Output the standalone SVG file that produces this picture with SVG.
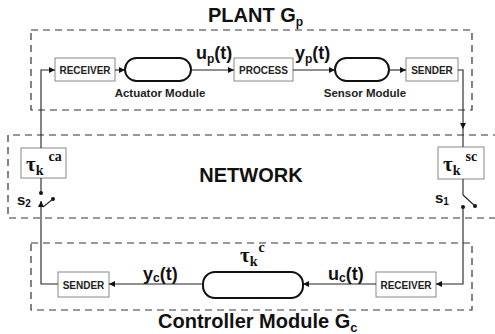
<svg xmlns="http://www.w3.org/2000/svg" width="495" height="334" viewBox="0 0 495 334">
<style>
.dash{fill:none;stroke:#333;stroke-width:1.2;stroke-dasharray:7 5}
.box{fill:#fff;stroke:#888;stroke-width:1}
.mod{fill:#fff;stroke:#111;stroke-width:2}
.ln{fill:none;stroke:#222;stroke-width:1.1}
.bl{font-family:"Liberation Sans",Arial,sans-serif;font-weight:bold;font-size:10px;fill:#222;text-anchor:middle}
.cap{font-family:"Liberation Sans",Arial,sans-serif;font-weight:bold;font-size:11.5px;fill:#222;text-anchor:middle}
.sig{font-family:"Liberation Sans",Arial,sans-serif;font-weight:bold;font-size:18px;fill:#111}
.ttl{font-family:"Liberation Sans",Arial,sans-serif;font-weight:bold;font-size:20px;fill:#111}
.sw{font-family:"Liberation Sans",Arial,sans-serif;font-weight:bold;font-size:15px;fill:#111}
.tau{font-family:"Liberation Serif","Times New Roman",serif;font-weight:bold;font-size:21px;fill:#111}
.dot{fill:#111}
</style>
<defs>
<marker id="ah" viewBox="0 0 10 10" refX="10" refY="5" markerWidth="6" markerHeight="6" markerUnits="userSpaceOnUse" orient="auto">
<path d="M0,0 L10,5 L0,10 z" fill="#111"/>
</marker>
</defs>

<g id="plant">
<rect class="dash" x="31" y="30" width="441" height="80"/>
<text class="ttl" x="208" y="22" font-size="18">PLANT G<tspan font-size="12" dy="4">p</tspan></text>
</g>
<g id="network">
<path class="dash" d="M500,135 H8 V218 H500"/>
<text class="ttl" x="251" y="182" text-anchor="middle">NETWORK</text>
</g>
<g id="controller">
<rect class="dash" x="31" y="243" width="441" height="67"/>
<text class="ttl" x="158" y="328">Controller Module G<tspan font-size="13" dy="4">c</tspan></text>
</g>

<g id="plant-receiver"><rect class="box" x="55" y="58" width="60" height="23"/><text class="bl" x="85" y="73.5">RECEIVER</text></g>
<g id="actuator"><rect class="mod" x="125" y="58" width="66" height="23" rx="11.5"/><text class="cap" x="160" y="97">Actuator Module</text></g>
<g id="process"><rect class="box" x="234" y="58" width="59" height="23"/><text class="bl" x="263.5" y="73.5">PROCESS</text></g>
<g id="sensor"><rect class="mod" x="335" y="58" width="54" height="23" rx="11.5"/><text class="cap" x="365" y="97">Sensor Module</text></g>
<g id="plant-sender"><rect class="box" x="406" y="58" width="52" height="23"/><text class="bl" x="432" y="73.5">SENDER</text></g>

<g id="tau-ca"><rect class="box" x="21" y="148" width="45" height="30"/><text class="tau" x="26" y="171">τ<tspan font-size="14" dy="4">k</tspan><tspan font-size="14" dx="5" dy="-14">ca</tspan></text></g>
<g id="tau-sc"><rect class="box" x="438" y="147" width="46" height="32"/><text class="tau" x="443" y="171">τ<tspan font-size="14" dy="4">k</tspan><tspan font-size="14" dx="5" dy="-14">sc</tspan></text></g>

<g id="switch-s2">
<circle class="dot" cx="41" cy="193" r="2"/>
<circle class="dot" cx="53" cy="199" r="2"/>
<path class="ln" d="M53,199 L43,207"/>
<text class="sw" x="17" y="205">s<tspan font-size="10" dy="2">2</tspan></text>
</g>
<g id="switch-s1">
<circle class="dot" cx="463" cy="207" r="2"/>
<circle class="dot" cx="475" cy="206" r="2"/>
<path class="ln" d="M463,195 L475,206"/>
<text class="sw" x="435" y="203">s<tspan font-size="10" dy="2">1</tspan></text>
</g>

<g id="ctrl-sender"><rect class="box" x="58" y="272" width="51" height="25"/><text class="bl" x="83.5" y="288.5">SENDER</text></g>
<g id="ctrl-module"><rect class="mod" x="203" y="272" width="100" height="26" rx="12"/><text class="tau" x="240" y="262">τ<tspan font-size="14" dy="4">k</tspan><tspan font-size="14" dx="1" dy="-14">c</tspan></text></g>
<g id="ctrl-receiver"><rect class="box" x="376" y="272" width="60" height="25"/><text class="bl" x="406" y="288.5">RECEIVER</text></g>

<g id="connectors">
<path class="ln" d="M115,70 H125" marker-end="url(#ah)"/>
<path class="ln" d="M191,70 H234" marker-end="url(#ah)"/>
<path class="ln" d="M293,70 H335" marker-end="url(#ah)"/>
<path class="ln" d="M389,70 H406" marker-end="url(#ah)"/>
<path class="ln" d="M458,70 H463 V129" marker-end="url(#ah)"/>
<path class="ln" d="M463,129 V147"/>
<path class="ln" d="M463,179 V195"/>
<path class="ln" d="M463,207 V284 H436" marker-end="url(#ah)"/>
<path class="ln" d="M376,284 H303" marker-end="url(#ah)"/>
<path class="ln" d="M203,284 H109" marker-end="url(#ah)"/>
<path class="ln" d="M58,284 H41 V201" marker-end="url(#ah)"/>
<path class="ln" d="M41,193 V178"/>
<path class="ln" d="M41,148 V70 H55" marker-end="url(#ah)"/>
<text class="sig" x="196" y="59">u<tspan font-size="12" dy="4">p</tspan><tspan dy="-4">(t)</tspan></text>
<text class="sig" x="295" y="59">y<tspan font-size="12" dy="4">p</tspan><tspan dy="-4">(t)</tspan></text>
<text class="sig" x="143" y="280">y<tspan font-size="12" dy="2">c</tspan><tspan dy="-2">(t)</tspan></text>
<text class="sig" x="328" y="280">u<tspan font-size="12" dy="2">c</tspan><tspan dy="-2">(t)</tspan></text>
</g>
</svg>
